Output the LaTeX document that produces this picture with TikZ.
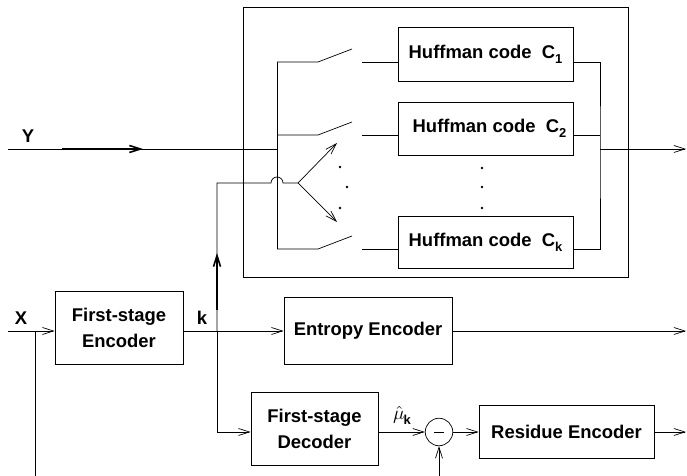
\RequirePackage{fix-cm}
\documentclass[tikz,border=0pt]{standalone}
\usepackage{fontspec}
\setmainfont{Liberation Sans}
\usetikzlibrary{arrows.meta,positioning,calc}
\newcommand{\hufsub}[1]{\raisebox{-5bp}{\fontsize{13}{13}\selectfont #1}}
\tikzset{
  blk/.style={draw,inner sep=0pt,align=center,font=\bfseries\fontsize{18.5}{26}\selectfont},
  lbl/.style={font=\bfseries\fontsize{18.5}{22}\selectfont},
  arr/.style={-{Straight Barb[length=11bp,width=7bp]}},
  heavy/.style={line width=1.6bp},
  dotmark/.style={circle,fill,inner sep=0pt,minimum size=2.6bp},
}

\begin{document}
\begin{tikzpicture}[x=1bp,y=1bp,line width=0.7bp]
  \useasboundingbox (0,0) rectangle (687,476);
  % switch bank with the huffman coders
  \node[draw,minimum width=385bp,minimum height=270bp] (bank) at (435.5,334) {};
  \node[blk,minimum width=175bp,minimum height=54bp] (huf1) at (485.5,422) {Huffman code\ \ C\hufsub{1}};
  \node[blk,minimum width=175bp,minimum height=53bp] (huf2) at (485.5,347.5) {\hspace{8bp}Huffman code\ \ C\hufsub{2}};
  \node[blk,minimum width=175bp,minimum height=52bp] (hufk) at (485.5,234) {Huffman code\ \ C\hufsub{k}};
  \coordinate (r1) at (277,414);
  \coordinate (r2) at (277,341);
  \coordinate (rk) at (277,227);
  \coordinate (busR) at (600,327);
  \draw (r1) -- (rk);
  \foreach \r/\h in {r1/huf1,r2/huf2,rk/hufk}{
    \draw (\r) -- ++(41,0) -- ++(34,13);
    \draw ($(\r)+(85,0)$) -- (\r -| \h.west);
  }
  \draw (huf1.east |- r1) -| (busR) |- (hufk.east |- rk);
  \draw (huf2.east |- r2) -- (r2 -| busR);
  \coordinate (yout) at (686,327);
  \draw[arr] (busR) -- (yout);
  \foreach \p in {(340,309),(347,289),(340,268),(482,308),(482,289),(482,268)}
    \node[dotmark] at \p {};
  % input Y
  \node[lbl] (ylab) at (28,340) {Y};
  \coordinate (yin) at (8,327);
  \draw (yin) -- (yin -| r1);
  \draw[arr,heavy] ($(yin)+(54,0)$) -- ++(81,0);
  % first stage
  \node[lbl] (xlab) at (21,158) {X};
  \coordinate (xin) at (8,145);
  \coordinate (xtap) at (35,145);
  \coordinate (xbot) at (35,0);
  \node[blk,minimum width=128bp,minimum height=73bp] (enc) at (119,148.5) {First-stage\\Encoder};
  \node[blk,minimum width=168bp,minimum height=67bp] (ent) at (368,145.5) {Entropy Encoder};
  \node[blk,minimum width=127bp,minimum height=73bp] (dec) at (314.5,47.5) {First-stage\\Decoder};
  \node[draw,circle,inner sep=0pt,minimum size=27.5bp] (sub) at (439,44) {\rule{10bp}{0.7bp}};
  \node[blk,minimum width=175bp,minimum height=53bp] (res) at (566.5,44.5) {Residue Encoder};
  \draw[arr] (xin) -- (enc.west |- xin);
  \draw (xtap) -- (xbot);
  \node[lbl] (klab) at (202,158) {k};
  \coordinate (kj) at (217,145);
  \coordinate (sel) at (298,293);
  \draw[arr] (enc.east |- xin) -- (ent.west |- xin);
  \draw[arr] (kj) |- (dec.west |- sub);
  \draw (kj) |- (271,293) arc[start angle=180,end angle=0,radius=6bp] -- (sel);
  \draw[arr,heavy] (217,166) -- (217,223);
  \draw[arr] (sel) -- (337,333);
  \draw[arr] (sel) -- (337,254);
  % residue path
  \node[inner sep=1bp] (mulab) at (402,61) {\scalebox{1.9}{$\hat{\mu}$}\kern-1bp\bfseries\hufsub{k}};
  \coordinate (subin) at (439,0);
  \draw[arr] (dec.east |- sub) -- (sub.west);
  \draw[arr] (subin) -- (sub.south);
  \draw[arr] (sub.east) -- (res.west |- sub);
  \coordinate (rout) at (686,44);
  \coordinate (eout) at (686,145);
  \draw[arr] (res.east |- sub) -- (rout);
  \draw[arr] (ent.east |- xin) -- (eout);
\end{tikzpicture}
\end{document}
